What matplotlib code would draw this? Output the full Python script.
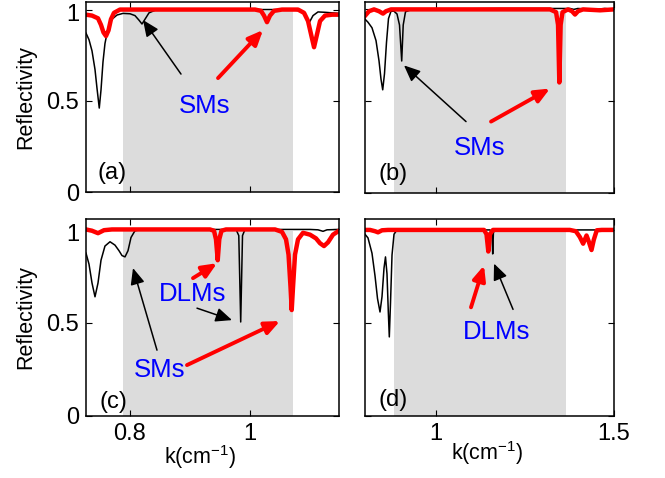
import matplotlib
matplotlib.use("Agg")
import matplotlib.pyplot as plt
from matplotlib.transforms import ScaledTranslation

plt.rcParams['font.family'] = ['Liberation Sans', 'DejaVu Sans']
plt.rcParams['mathtext.fontset'] = 'custom'
plt.rcParams['mathtext.rm'] = 'Liberation Sans'
plt.rcParams['mathtext.it'] = 'Liberation Sans:italic'

# ---------------- data ----------------
# panel (a)
a_black_k = [0.7267, 0.7317, 0.7367, 0.7417, 0.745, 0.7488, 0.7517, 0.755, 0.7583, 0.7633, 0.77,
             0.7783, 0.7883, 0.80, 0.8083, 0.815, 0.82, 0.825, 0.8317, 0.8417, 0.8667, 0.9167,
             1.0, 1.0667, 1.0833, 1.0917, 1.0983, 1.105, 1.1133, 1.125, 1.1483]
a_black_r = [0.871, 0.835, 0.774, 0.672, 0.570, 0.461, 0.560, 0.713, 0.814, 0.896, 0.947,
             0.970, 0.979, 0.977, 0.967, 0.942, 0.921, 0.947, 0.982, 0.996, 1.0, 1.0,
             1.0, 1.0, 0.993, 0.972, 0.926, 0.967, 0.987, 0.985, 0.979]
a_red_k = [0.7267, 0.7367, 0.7467, 0.7517, 0.7558, 0.76, 0.7642, 0.7683, 0.7733, 0.7833, 0.80,
           1.0083, 1.0183, 1.0233, 1.0283, 1.0333, 1.04, 1.0533, 1.08, 1.09, 1.0967, 1.1017,
           1.1067, 1.1117, 1.1167, 1.125, 1.1367, 1.1483]
a_red_r = [0.972, 0.967, 0.952, 0.916, 0.875, 0.855, 0.886, 0.947, 0.982, 1.0, 1.0,
           1.0, 0.993, 0.967, 0.931, 0.967, 0.993, 1.0, 1.0, 0.982, 0.937, 0.865,
           0.794, 0.865, 0.937, 0.967, 0.972, 0.972]

# panel (b)
b_black_k = [0.8014, 0.8098, 0.821, 0.8323, 0.8407, 0.8463, 0.8511, 0.8561, 0.8617, 0.8673,
             0.8744, 0.8828, 0.8912, 0.8982, 0.9044, 0.9086, 0.915, 0.9333, 1.1802, 1.3768,
             1.3872, 1.3984, 1.4461, 1.474, 1.4994]
b_black_r = [0.947, 0.93, 0.90, 0.83, 0.72, 0.62, 0.562, 0.65, 0.82, 0.95,
             0.99, 0.99, 0.975, 0.915, 0.719, 0.915, 0.987, 1.0, 1.005, 1.005,
             1.0, 1.005, 1.0, 1.005, 1.0]
b_red_k = [0.8014, 0.8126, 0.8267, 0.8407, 0.8519, 0.8603, 0.8744, 1.3205, 1.3374, 1.343,
           1.3466, 1.3503, 1.3556, 1.371, 1.3822, 1.3906, 1.399, 1.4131, 1.4608, 1.4994]
b_red_r = [0.965, 0.99, 1.0, 0.99, 0.977, 0.99, 1.0, 1.0, 0.985, 0.916,
           0.602, 0.916, 0.985, 1.0, 0.99, 0.972, 0.99, 1.0, 0.995, 1.0]

# panel (c)
c_black_k = [0.7267, 0.7317, 0.7367, 0.7417, 0.7467, 0.7517, 0.7583, 0.7667, 0.775, 0.7817,
             0.7867, 0.7917, 0.7967, 0.8017, 0.8083, 0.82, 0.9167, 0.9767, 0.9813, 0.9845,
             0.9875, 0.9917, 1.10, 1.1133, 1.1217, 1.1283, 1.1483]
c_black_r = [0.873, 0.814, 0.713, 0.639, 0.713, 0.835, 0.911, 0.934, 0.916, 0.886,
             0.86, 0.853, 0.886, 0.957, 0.993, 1.0, 1.0, 1.0, 0.967, 0.504,
             0.967, 1.0, 1.0, 0.998, 0.99, 0.998, 1.0]
c_red_k = [0.7267, 0.7367, 0.7467, 0.7567, 0.77, 0.9333, 0.94, 0.9433, 0.9462, 0.9488,
           0.9525, 0.96, 1.0417, 1.0533, 1.06, 1.0642, 1.0675, 1.0695, 1.0717, 1.075,
           1.08, 1.0883, 1.10, 1.11, 1.1167, 1.1233, 1.13, 1.1383, 1.1483]
c_red_r = [1.0, 0.993, 0.98, 0.996, 1.0, 1.0, 0.993, 0.947, 0.835, 0.947,
           0.993, 1.0, 1.0, 0.987, 0.947, 0.865, 0.692, 0.568, 0.692, 0.865,
           0.947, 0.982, 0.972, 0.952, 0.926, 0.911, 0.931, 0.972, 0.993]

# panel (d)
d_black_k = [0.80, 0.8098, 0.821, 0.8295, 0.8365, 0.8435, 0.8491, 0.8547, 0.8589, 0.8631,
             0.8668, 0.8696, 0.873, 0.8772, 0.8828, 0.8912, 0.9277, 1.1522, 1.1577, 1.1597,
             1.1617, 1.169, 1.50]
d_black_r = [0.98, 0.957, 0.875, 0.753, 0.631, 0.559, 0.641, 0.794, 0.855, 0.764,
             0.56, 0.425, 0.611, 0.865, 0.977, 1.0, 1.0, 1.0, 0.987, 0.871,
             0.987, 1.0, 1.0]
d_red_k = [0.80, 0.8154, 0.8295, 0.8379, 0.8491, 0.8659, 1.1353, 1.1423, 1.1474, 1.1521,
           1.1605, 1.376, 1.3929, 1.4041, 1.4134, 1.4229, 1.4293, 1.4369, 1.4433, 1.4517,
           1.4657, 1.50]
d_red_r = [1.0, 1.0, 0.993, 0.987, 0.998, 1.0, 1.0, 0.977, 0.884, 0.977,
           1.0, 1.0, 0.993, 0.962, 0.926, 0.97, 0.937, 0.892, 0.947, 0.998,
           1.0, 1.0]

band_ac = [0.788, 1.072]
band_bd = [0.884, 1.3665]
xlim_ac = [0.7267, 1.1483]
xlim_bd = [0.80, 1.50]
xticks_ac = [0.8, 1.0]
xticklabels_ac = ['0.8', '1']
xticks_bd = [1.0, 1.5]
xticklabels_bd = ['1', '1.5']
yticks = [0, 0.5, 1]
yticklabels = ['0', '0.5', '1']

# ---------------- figure ----------------
W, H = 665, 478
fig = plt.figure(figsize=(W / 100, H / 100), dpi=100)

def px_axes(l, r, t, b):
    return fig.add_axes([l / W, 1 - b / H, (r - l) / W, (b - t) / H])

ax_a = px_axes(86, 339, 1.7, 192.3)
ax_b = px_axes(364.5, 614, 1.5, 193)
ax_c = px_axes(86, 339, 219, 416)
ax_d = px_axes(364.5, 614, 219.5, 416)

TF = 17
panels = [
    (ax_a, a_black_k, a_black_r, a_red_k, a_red_r, band_ac, xlim_ac, xticks_ac, xticklabels_ac, (0, 1.043), '(a)', (0.103, 0.101), True, False),
    (ax_b, b_black_k, b_black_r, b_red_k, b_red_r, band_bd, xlim_bd, xticks_bd, xticklabels_bd, (0, 1.043), '(b)', (0.114, 0.101), False, False),
    (ax_c, c_black_k, c_black_r, c_red_k, c_red_r, band_ac, xlim_ac, xticks_ac, xticklabels_ac, (0, 1.056), '(c)', (0.107, 0.071), True, True),
    (ax_d, d_black_k, d_black_r, d_red_k, d_red_r, band_bd, xlim_bd, xticks_bd, xticklabels_bd, (0, 1.056), '(d)', (0.114, 0.081), False, True),
]

for ax, bk, br, rk, rr, band, xl, xt, xtl, yl, lab, labpos, showy, showx in panels:
    ax.fill_between(band, 0, 0.99, color='#dcdcdc', lw=0, zorder=0)
    ax.plot(bk, br, color='black', lw=1.1, zorder=2)
    ax.plot(rk, rr, color='#ff0000', lw=3.2, zorder=3, solid_joinstyle='round')
    ax.set_xlim(*xl)
    ax.set_ylim(*yl)
    ax.set_xticks(xt)
    ax.set_yticks(yticks)
    ax.set_xticklabels(xtl if showx else [])
    ax.set_yticklabels(yticklabels if showy else [])
    ax.tick_params(direction='in', length=4, width=0.8, top=True, right=True,
                   labelsize=TF, pad=5, colors='black')
    for s in ax.spines.values():
        s.set_linewidth(1.1)
        s.set_zorder(5)
    ax.text(labpos[0], labpos[1], lab, transform=ax.transAxes, fontsize=TF,
            ha='center', va='center', zorder=6)

# nudge the top "1" label down a little, as in the reference
for ax in (ax_a, ax_c):
    lbl = ax.get_yticklabels()[-1]
    lbl.set_transform(lbl.get_transform() + ScaledTranslation(0, -3 / 100, fig.dpi_scale_trans))

blue = '#0000ff'
FS = 18.5

def arrow(ax, tail, tip, color, lw, ms):
    ax.annotate('', xy=tip, xytext=tail,
                arrowprops=dict(arrowstyle='-|>,head_length=0.55,head_width=0.24',
                                color=color, lw=lw, mutation_scale=ms,
                                shrinkA=0, shrinkB=0), zorder=7)

BMS, RMS = 18, 16
# (a)
ax_a.text(0.925, 0.472, 'SMs', color=blue, fontsize=FS, ha='center', va='center')
arrow(ax_a, (0.885, 0.647), (0.8217, 0.943), 'black', 1.1, BMS)
arrow(ax_a, (0.9467, 0.625), (1.0217, 0.888), '#ff0000', 2.8, RMS)
# (b)
ax_b.text(1.124, 0.246, 'SMs', color=blue, fontsize=FS, ha='center', va='center')
arrow(ax_b, (1.0848, 0.389), (0.9108, 0.695), 'black', 1.1, BMS)
arrow(ax_b, (1.155, 0.389), (1.3205, 0.569), '#ff0000', 2.8, RMS)
# (c)
ax_c.text(0.905, 0.654, 'DLMs', color=blue, fontsize=FS, ha='center', va='center')
ax_c.text(0.85, 0.246, 'SMs', color=blue, fontsize=FS, ha='center', va='center')
arrow(ax_c, (0.905, 0.739), (0.945, 0.819), '#ff0000', 2.8, RMS)
arrow(ax_c, (0.9117, 0.578), (0.97, 0.514), 'black', 1.1, BMS)
arrow(ax_c, (0.845, 0.353), (0.805, 0.793), 'black', 1.1, BMS)
arrow(ax_c, (0.895, 0.273), (1.05, 0.509), '#ff0000', 2.8, RMS)
# (d)
ax_d.text(1.1718, 0.45, 'DLMs', color=blue, fontsize=FS, ha='center', va='center')
arrow(ax_d, (1.0988, 0.584), (1.1353, 0.809), '#ff0000', 2.8, RMS)
arrow(ax_d, (1.2167, 0.573), (1.1634, 0.819), 'black', 1.1, BMS)

# axis labels
fig.text(26 / W, 1 - 97 / H, 'Reflectivity', rotation=90, fontsize=15.5, ha='center', va='center')
fig.text(26 / W, 1 - 317 / H, 'Reflectivity', rotation=90, fontsize=15.5, ha='center', va='center')
fig.text(200 / W, 1 - 457 / H, r'k(cm$^{\mathregular{-1}}$)', fontsize=15.5, ha='center', va='center')
fig.text(487 / W, 1 - 453 / H, r'k(cm$^{\mathregular{-1}}$)', fontsize=15.5, ha='center', va='center')

fig.savefig('out.png', dpi=100)
